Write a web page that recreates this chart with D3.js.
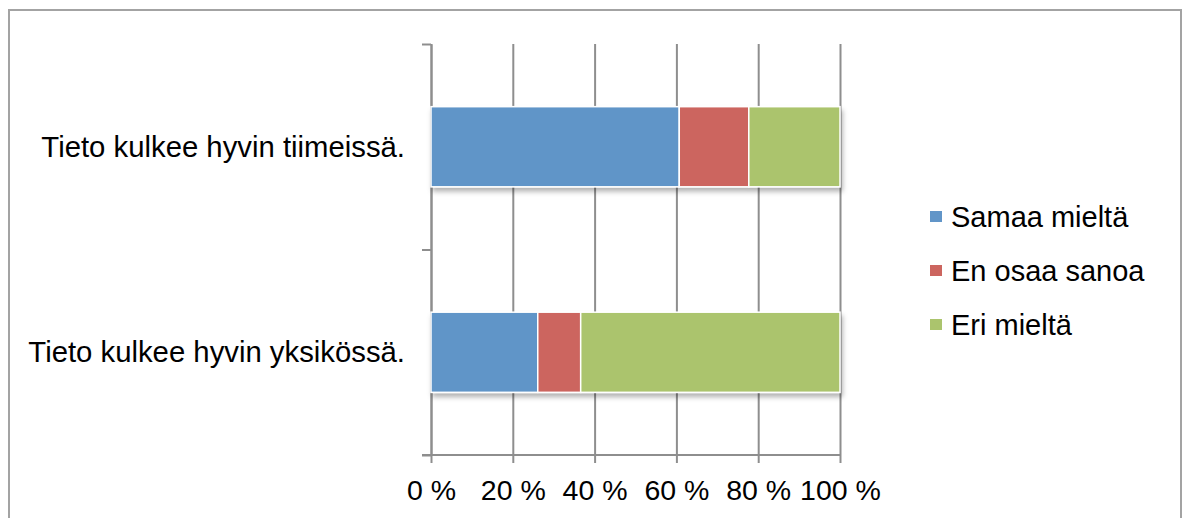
<!DOCTYPE html>
<html><head><meta charset="utf-8">
<script src="https://cdn.jsdelivr.net/npm/d3@7"></script>
<style>
html,body{margin:0;padding:0;background:#fff;}
svg{display:block;font-family:"Liberation Sans",Arial,sans-serif;}
</style></head>
<body><svg id="c" width="1185" height="518"></svg>
<script>
const categories = ["Tieto kulkee hyvin tiimeissä.", "Tieto kulkee hyvin yksikössä."];
const seriesNames = ["Samaa mieltä", "En osaa sanoa", "Eri mieltä"];
const samaa = [60.7, 26.1];
const enOsaa = [17.0, 10.5];
const eri = [22.3, 63.4];
const tickValues = [0, 20, 40, 60, 80, 100];
const tickLabels = ["0 %", "20 %", "40 %", "60 %", "80 %", "100 %"];
const colors = ["#6195c8", "#cc655f", "#abc46d"];

const svg = d3.select("#c");
svg.append("rect").attr("x",9).attr("y",10).attr("width",1172).attr("height",520)
  .attr("fill","#fff").attr("stroke","#a3a3a3").attr("stroke-width",2);

const defs = svg.append("defs");
const f = defs.append("filter").attr("id","sh").attr("x","-5%").attr("y","-10%").attr("width","115%").attr("height","130%");
f.append("feDropShadow").attr("dx",2).attr("dy",4).attr("stdDeviation",2.5).attr("flood-color","#000").attr("flood-opacity",0.3);

const x = d3.scaleLinear().domain([0,100]).range([431,840]);
const y = d3.scaleBand().domain(categories).range([44,455]).paddingInner(0.61).paddingOuter(0.305);

const gridColor = "#8e8e8e";
svg.append("g").attr("transform","translate(0,455)")
  .call(d3.axisBottom(x).tickValues(tickValues).tickSize(-411).tickFormat(""))
  .call(g=>g.select(".domain").remove())
  .call(g=>g.selectAll("line").attr("stroke",gridColor).attr("stroke-width",2));

const yTicks = [44, 249.5, 455];
svg.append("g").attr("transform","translate(431,0)")
  .call(d3.axisLeft(d3.scaleLinear().domain([44,455]).range([44,455])).tickValues(yTicks).tickSize(9).tickSizeOuter(0).tickFormat(""))
  .call(g=>g.select(".domain").attr("stroke",gridColor).attr("stroke-width",2))
  .call(g=>g.selectAll("line").attr("stroke",gridColor).attr("stroke-width",2));

const data = categories.map((c,i)=>({cat:c, v:[samaa[i], enOsaa[i], eri[i]]}));
const bars = svg.append("g").attr("filter","url(#sh)");
data.forEach(d=>{
  let acc = 0;
  d.v.forEach((v,j)=>{
    bars.append("rect")
      .attr("x", x(acc)).attr("y", y(d.cat))
      .attr("width", x(acc+v)-x(acc)).attr("height", y.bandwidth())
      .attr("fill", colors[j]).attr("stroke","#fff").attr("stroke-width",1.5);
    acc += v;
  });
});

svg.append("g").attr("transform","translate(0,455)")
  .call(d3.axisBottom(x).tickValues(tickValues).tickSize(8).tickSizeOuter(0).tickPadding(17)
    .tickFormat((d,i)=>tickLabels[i]))
  .call(g=>g.select(".domain").attr("d","M422,0H840").attr("stroke",gridColor).attr("stroke-width",2))
  .call(g=>g.selectAll("line").attr("stroke",gridColor).attr("stroke-width",2))
  .call(g=>g.selectAll("text").attr("font-size",28.5).attr("fill","#000").attr("font-family","Liberation Sans, Arial, sans-serif"));

svg.append("g").selectAll("text").data(categories).join("text")
  .attr("x", 405).attr("y", d=>y(d)+y.bandwidth()/2+10)
  .attr("text-anchor","end").attr("font-size",29.3).attr("fill","#000")
  .text(d=>d);

const lg = svg.append("g");
seriesNames.forEach((s,i)=>{
  const yy = 227 + i*54;
  lg.append("rect").attr("x",930).attr("y",yy-16).attr("width",12).attr("height",11).attr("fill",colors[i]);
  lg.append("text").attr("x",951).attr("y",yy).attr("font-size",29).attr("fill","#000").text(s);
});
</script></body></html>
